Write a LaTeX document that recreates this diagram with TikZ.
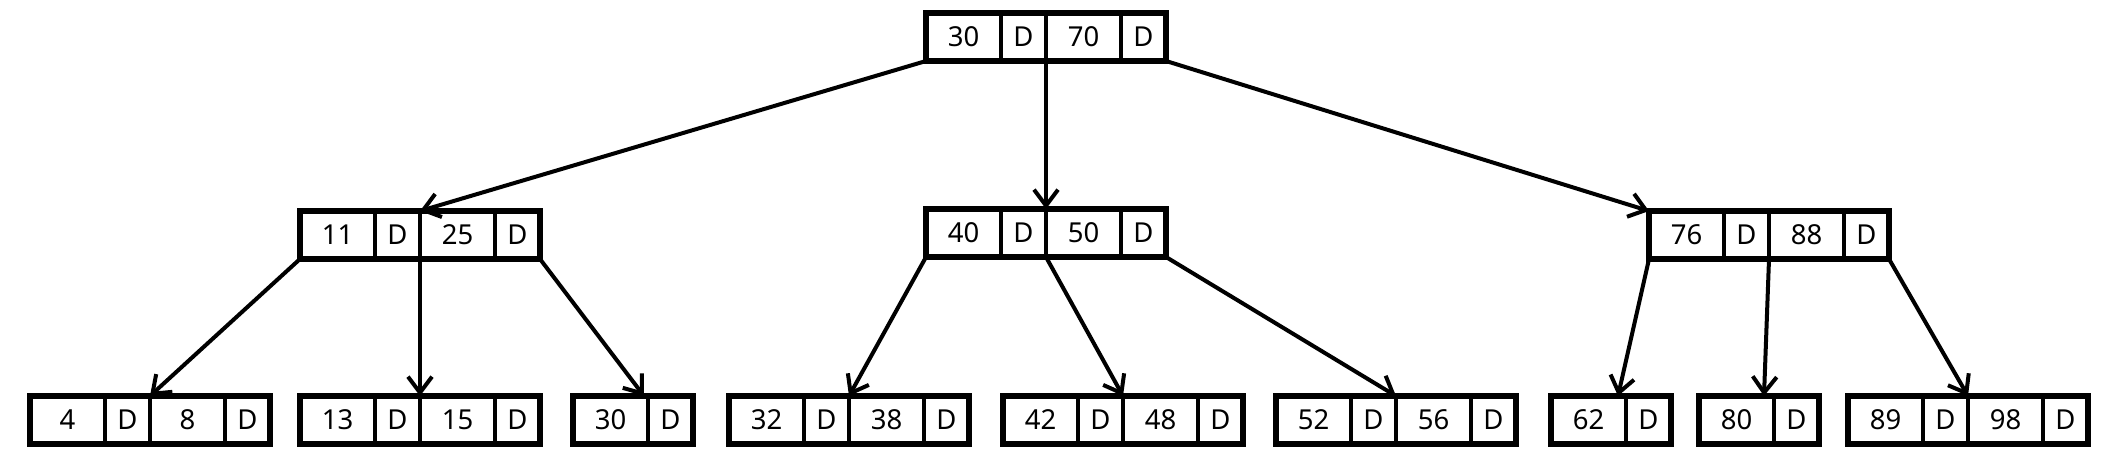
\documentclass[tikz,border=0pt]{standalone}
\usepackage{fontspec}
\setmainfont{Noto Sans}
\usetikzlibrary{arrows.meta,calc}
\tikzset{
  cellk/.style={draw, line width=4pt, minimum width=75pt, minimum height=48pt,
    inner sep=0pt, outer sep=0pt, anchor=north west, fill=white,
    font=\fontsize{27.5}{32}\selectfont},
  celld/.style={cellk, minimum width=45pt},
  outerbox/.style={draw, line width=6pt, minimum height=48pt, inner sep=0pt,
    outer sep=0pt, anchor=north west},
  link/.style={line width=4pt, -{Straight Barb[length=16pt,width=24pt]}},
}
\newcommand\twokey[5]{%
  \node[cellk] (#1-a) at (#2,-#3) {#4};
  \node[celld] (#1-b) at (#1-a.north east) {D};
  \node[cellk] (#1-c) at (#1-b.north east) {#5};
  \node[celld] (#1-d) at (#1-c.north east) {D};
  \node[outerbox, minimum width=240pt] (#1) at (#2,-#3) {};
}
\newcommand\onekey[4]{%
  \node[cellk] (#1-a) at (#2,-#3) {#4};
  \node[celld] (#1-b) at (#1-a.north east) {D};
  \node[outerbox, minimum width=120pt] (#1) at (#2,-#3) {};
}
\begin{document}
\begin{tikzpicture}[x=1pt,y=1pt]
\useasboundingbox (0,0) rectangle (2108,-472);
% root
\twokey{root}{926}{13}{30}{70}
% level 2
\twokey{ll}{300}{211}{11}{25}
\twokey{lm}{926}{209}{40}{50}
\twokey{lr}{1649}{211}{76}{88}
% leaves
\twokey{f1}{30}{396}{4}{8}
\twokey{f2}{300}{396}{13}{15}
\onekey{f3}{573}{396}{30}
\twokey{f4}{729}{396}{32}{38}
\twokey{f5}{1003}{396}{42}{48}
\twokey{f6}{1276}{396}{52}{56}
\onekey{f7}{1551}{396}{62}
\onekey{f8}{1699}{396}{80}
\twokey{f9}{1848}{396}{89}{98}
% connectors
\draw[link] (root.south west) -- (ll-b.north east);
\draw[link] (root-b.south east) -- (lm-b.north east);
\draw[link] (root.south east) -- (lr.north west);
\draw[link] (ll.south west) -- (f1-b.north east);
\draw[link] (ll-b.south east) -- (f2-b.north east);
\draw[link] (ll.south east) -- ($(f3-a.north east)+(-4,0)$);
\draw[link] (lm.south west) -- (f4-b.north east);
\draw[link] (lm-b.south east) -- (f5-b.north east);
\draw[link] (lm.south east) -- (f6-b.north east);
\draw[link] (lr.south west) -- ($(f7-a.north east)+(-8,0)$);
\draw[link] (lr-b.south east) -- ($(f8-a.north east)+(-10,0)$);
\draw[link] (lr.south east) -- (f9-b.north east);
\end{tikzpicture}
\end{document}
